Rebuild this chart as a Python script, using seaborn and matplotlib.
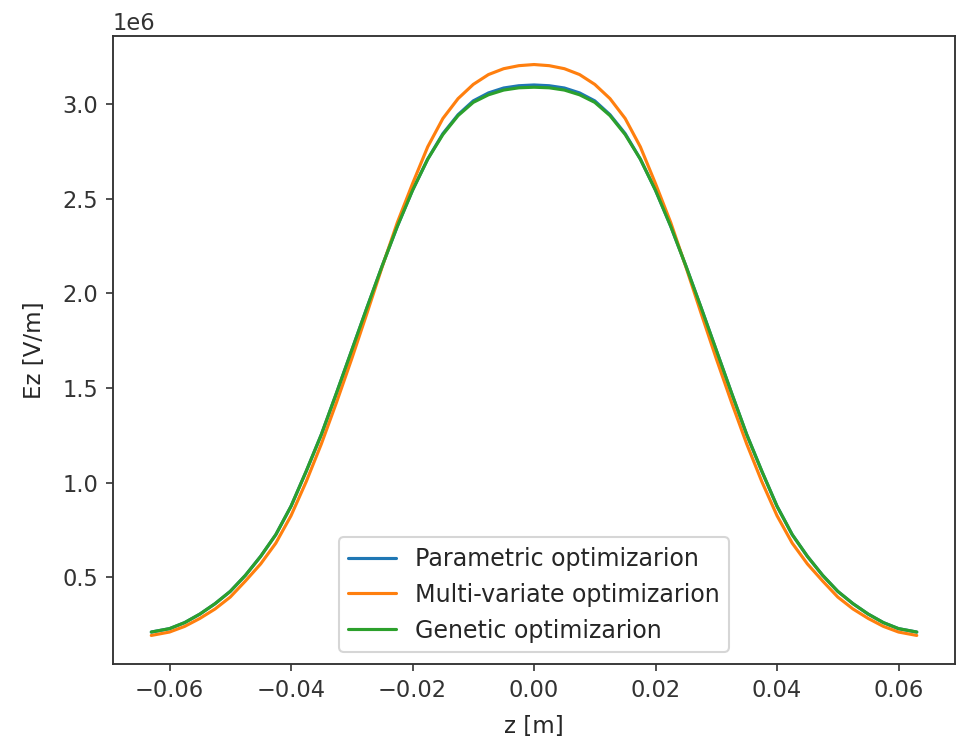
import numpy as np
import pandas as pd
import matplotlib
matplotlib.use("Agg")
import matplotlib.pyplot as plt
import seaborn as sns

# ---- data (Ez values in units of 1e6 V/m) ----
z_m = [-0.063, -0.060, -0.0575, -0.055, -0.0525, -0.050, -0.0475, -0.045,
       -0.0425, -0.040, -0.0375, -0.035, -0.0325, -0.030, -0.0275, -0.025,
       -0.0225, -0.020, -0.0175, -0.015, -0.0125, -0.010, -0.0075, -0.005,
       -0.0025, 0.000, 0.0025, 0.005, 0.0075, 0.010, 0.0125, 0.015, 0.0175,
       0.020, 0.0225, 0.025, 0.0275, 0.030, 0.0325, 0.035, 0.0375, 0.040,
       0.0425, 0.045, 0.0475, 0.050, 0.0525, 0.055, 0.0575, 0.060, 0.063]

parametric = [0.21, 0.228, 0.26, 0.305, 0.36, 0.425, 0.51, 0.61,
              0.725, 0.875, 1.06, 1.255, 1.475, 1.70, 1.925, 2.145,
              2.355, 2.545, 2.71, 2.845, 2.945, 3.018, 3.06, 3.086,
              3.098, 3.102, 3.098, 3.086, 3.06, 3.018, 2.945, 2.845, 2.71,
              2.545, 2.355, 2.145, 1.925, 1.70, 1.475, 1.255, 1.06, 0.875,
              0.725, 0.61, 0.51, 0.425, 0.36, 0.305, 0.26, 0.228, 0.21]

multivariate = [0.192, 0.21, 0.24, 0.282, 0.332, 0.395, 0.48, 0.57,
                0.68, 0.825, 1.005, 1.205, 1.425, 1.655, 1.895, 2.14,
                2.375, 2.58, 2.775, 2.925, 3.03, 3.105, 3.157, 3.188,
                3.204, 3.21, 3.204, 3.188, 3.157, 3.105, 3.03, 2.925, 2.775,
                2.58, 2.375, 2.14, 1.895, 1.655, 1.425, 1.205, 1.005, 0.825,
                0.68, 0.57, 0.48, 0.395, 0.332, 0.282, 0.24, 0.21, 0.192]

genetic = [0.21, 0.228, 0.26, 0.305, 0.36, 0.425, 0.51, 0.61,
           0.725, 0.875, 1.06, 1.255, 1.475, 1.70, 1.925, 2.145,
           2.355, 2.545, 2.71, 2.84, 2.94, 3.01, 3.05, 3.075,
           3.087, 3.09, 3.087, 3.075, 3.05, 3.01, 2.94, 2.84, 2.71,
           2.545, 2.355, 2.145, 1.925, 1.70, 1.475, 1.255, 1.06, 0.875,
           0.725, 0.61, 0.51, 0.425, 0.36, 0.305, 0.26, 0.228, 0.21]

series_names = ["Parametric optimizarion", "Multi-variate optimizarion",
                "Genetic optimizarion"]
series_values = [parametric, multivariate, genetic]

rows = []
for name, vals in zip(series_names, series_values):
    for z, v in zip(z_m, vals):
        rows.append({"z": z, "Ez": v * 1e6, "method": name})
df = pd.DataFrame(rows)

# ---- style ----
sns.set_style("ticks")
plt.rcParams.update({
    "font.family": ["DejaVu Sans"],
    "font.size": 10.8,
    "axes.labelsize": 11,
    "xtick.labelsize": 10.8,
    "ytick.labelsize": 10.8,
    "legend.fontsize": 11.4,
    "axes.edgecolor": "#333333",
    "axes.linewidth": 0.9,
    "xtick.color": "#333333",
    "ytick.color": "#333333",
    "text.color": "#262626",
    "axes.labelcolor": "#262626",
    "xtick.direction": "out",
    "ytick.direction": "out",
    "xtick.major.size": 3.5,
    "ytick.major.size": 3.5,
})

fig = plt.figure(figsize=(961 / 150, 739 / 150), dpi=150)
ax = fig.add_axes([0.1176, 0.1015, 0.8762, 0.8498])

palette = {series_names[0]: "#1f77b4",
           series_names[1]: "#ff7f0e",
           series_names[2]: "#2ca02c"}

sns.lineplot(data=df, x="z", y="Ez", hue="method", hue_order=series_names,
             palette=palette, linewidth=1.5, ax=ax, sort=True, estimator=None)

for s in ax.spines.values():
    s.set_visible(True)

ax.set_xlabel("z [m]", labelpad=6.5)
ax.set_ylabel("Ez [V/m]", labelpad=8)
ax.margins(x=0.05, y=0.05)

handles, labels = ax.get_legend_handles_labels()
ax.legend(handles, labels, loc="lower center", frameon=True, labelspacing=0.5)

fig.savefig("out.png", dpi=150)
